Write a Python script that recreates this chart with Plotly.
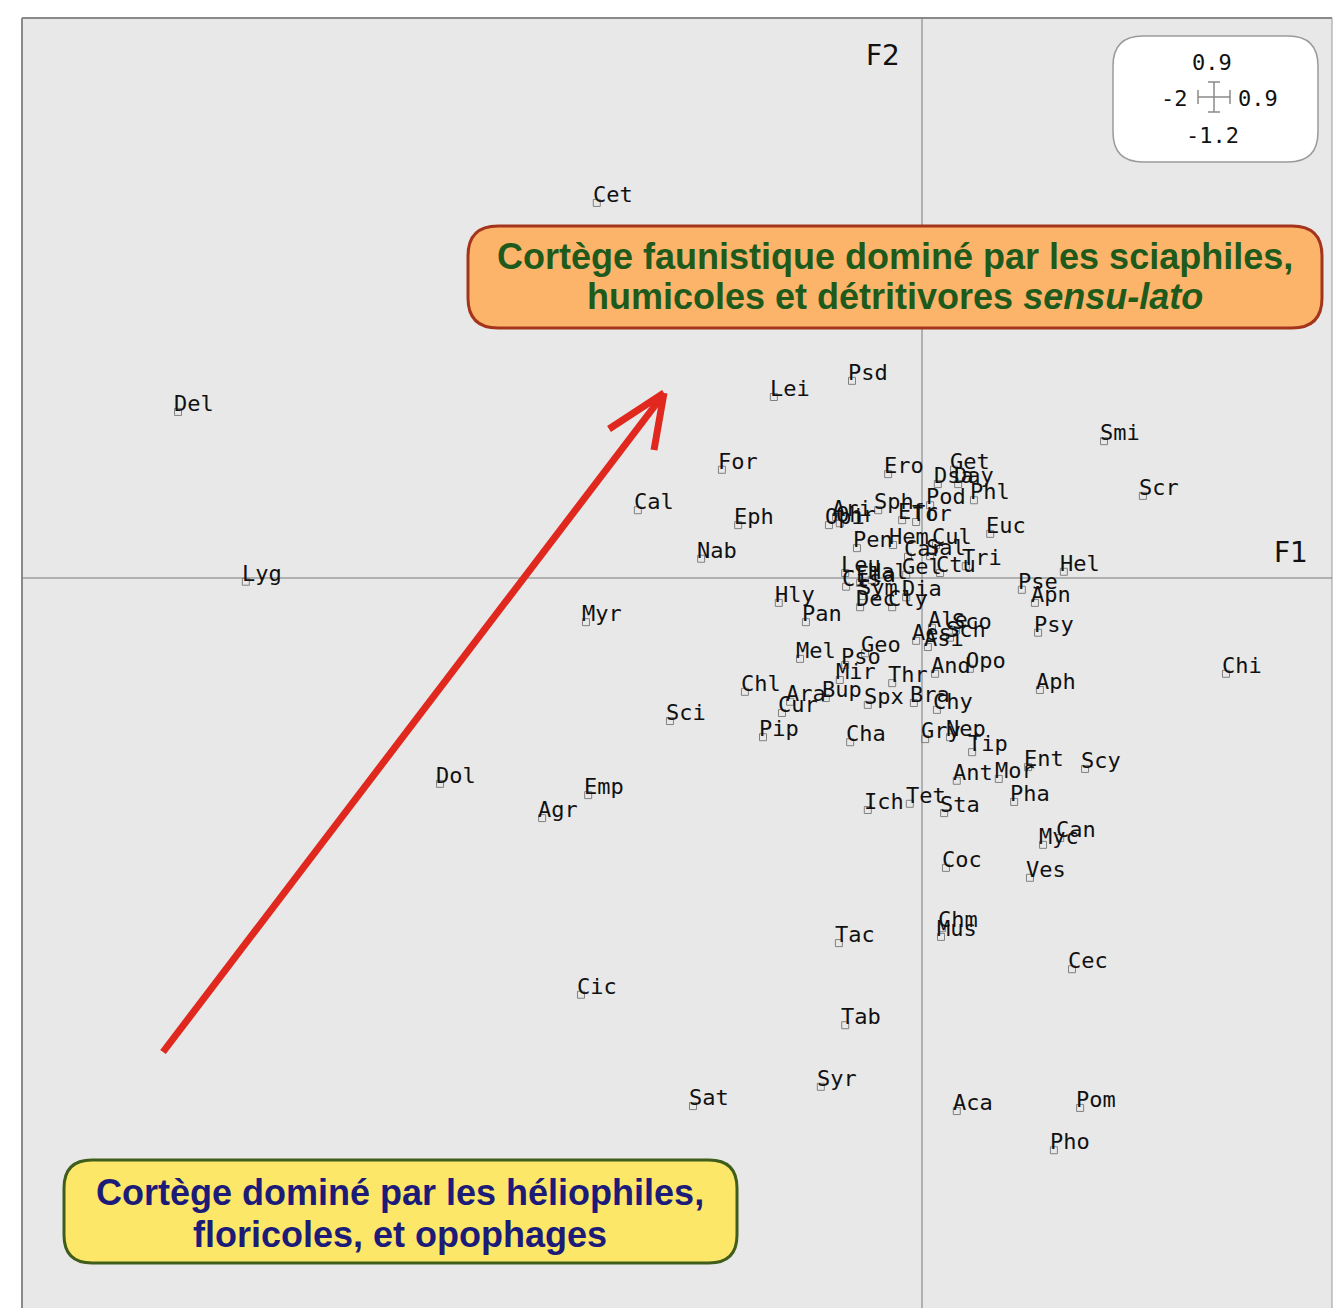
import plotly.graph_objects as go

# ---- data: factorial coordinates (F1, F2) of taxa ----
labels = ["Cet", "Del", "Lyg", "Lei", "Psd", "Smi", "Scr", "For", "Cal", "Eph",
          "Nab", "Ero", "Get", "Dsa", "Day", "Phl", "Pod", "Sph", "Ari", "Opi",
          "Ohr", "Efr", "Tor", "Euc", "Pen", "Hem", "Cul", "Car", "Sal", "Tri",
          "Ctu", "Hel", "Leu", "Cis", "Ela", "Hal", "Gel", "Sym", "Dia", "Dec",
          "Cly", "Pse", "Apn", "Hly", "Pan", "Myr", "Psy", "Ale", "Aes", "Sco",
          "Sch", "Asi", "Chi", "Mel", "Geo", "Pso", "And", "Opo", "Mir", "Thr",
          "Aph", "Chl", "Ara", "Bup", "Cur", "Spx", "Bra", "Chy", "Sci", "Pip",
          "Cha", "Gry", "Nep", "Tip", "Ent", "Scy", "Ant", "Mor", "Dol", "Emp",
          "Agr", "Ich", "Tet", "Sta", "Pha", "Myc", "Can", "Coc", "Ves", "Chm",
          "Mus", "Tac", "Cec", "Cic", "Tab", "Syr", "Sat", "Aca", "Pom", "Pho"]
f1 = [-0.720, -1.647, -1.497, -0.328, -0.155, 0.403, 0.489, -0.443, -0.629, -0.407,
      -0.489, -0.075, 0.071, 0.035, 0.080, 0.115, 0.018, -0.097, -0.190, -0.206,
      -0.182, -0.044, -0.013, 0.151, -0.144, -0.064, 0.031, -0.031, 0.018, 0.097,
      0.040, 0.314, -0.170, -0.168, -0.137, -0.111, -0.035, -0.133, -0.035, -0.137,
      -0.066, 0.221, 0.250, -0.317, -0.257, -0.744, 0.257, 0.022, -0.013, 0.075,
      0.062, 0.013, 0.673, -0.270, -0.126, -0.170, 0.029, 0.106, -0.182, -0.066,
      0.261, -0.392, -0.292, -0.213, -0.310, -0.120, -0.018, 0.033, -0.558, -0.352,
      -0.159, 0.007, 0.062, 0.111, 0.235, 0.361, 0.077, 0.170, -1.067, -0.739,
      -0.841, -0.120, -0.027, 0.049, 0.204, 0.268, 0.306, 0.053, 0.239, 0.044,
      0.042, -0.184, 0.332, -0.755, -0.170, -0.224, -0.507, 0.077, 0.350, 0.292]
f2 = [0.603, 0.267, -0.006, 0.291, 0.317, 0.220, 0.132, 0.174, 0.109, 0.085,
      0.031, 0.167, 0.174, 0.151, 0.151, 0.125, 0.117, 0.109, 0.098, 0.085,
      0.088, 0.093, 0.090, 0.071, 0.048, 0.053, 0.053, 0.034, 0.035, 0.019,
      0.008, 0.010, 0.008, -0.014, -0.008, -0.003, 0.005, -0.029, -0.031, -0.047,
      -0.047, -0.019, -0.040, -0.040, -0.071, -0.071, -0.088, -0.080, -0.101, -0.084,
      -0.096, -0.111, -0.154, -0.130, -0.121, -0.140, -0.154, -0.146, -0.164, -0.169,
      -0.180, -0.183, -0.199, -0.193, -0.217, -0.204, -0.201, -0.212, -0.230, -0.256,
      -0.264, -0.259, -0.256, -0.280, -0.304, -0.307, -0.326, -0.323, -0.331, -0.349,
      -0.386, -0.373, -0.363, -0.378, -0.360, -0.429, -0.418, -0.466, -0.482, -0.563,
      -0.577, -0.587, -0.629, -0.670, -0.719, -0.818, -0.849, -0.857, -0.852, -0.920]

scale_labels = ["0.9", "-2", "0.9", "-1.2"]
axis_names = ["F1", "F2"]
box_top_lines = ["Cortège faunistique dominé par les sciaphiles,",
                 "humicoles et détritivores <i>sensu-lato</i>"]
box_bottom_lines = ["Cortège dominé par les héliophiles,",
                    "floricoles, et opophages"]

# ---- layout helpers (screen pixel -> paper); page body has an 8px margin ----
OFF = 8
W, H = 1328, 1300
PL, PT, PR, PB = 22, 18, 1332, 1308          # plot area in screen pixels
ML, MT = PL - OFF, PT - OFF
MR = W - (PR - OFF)
MB = H - (PB - OFF)
PW, PH = PR - PL, PB - PT
X0PIX, Y0PIX, SX, SY = 922, 578, 451.7, 622.0  # origin and scale in screen pixels


def px(x):
    return (x - PL) / PW


def py(y):
    return (PB - y) / PH


def rounded_rect(x0, y0, x1, y1, r):
    rx, ry = r / PW, r / PH
    X0, X1 = px(x0), px(x1)
    Y0, Y1 = py(y0), py(y1)  # Y0 top, Y1 bottom
    return (f"M{X0+rx},{Y0} L{X1-rx},{Y0} Q{X1},{Y0} {X1},{Y0-ry} "
            f"L{X1},{Y1+ry} Q{X1},{Y1} {X1-rx},{Y1} L{X0+rx},{Y1} "
            f"Q{X0},{Y1} {X0},{Y1+ry} L{X0},{Y0-ry} Q{X0},{Y0} {X0+rx},{Y0} Z")


fig = go.Figure()
fig.add_trace(go.Scatter(
    x=f1, y=f2, mode="markers",
    marker=dict(symbol="square-open", size=7, color="#808080", line=dict(width=1)),
    hoverinfo="text", text=labels, showlegend=False))

annotations = []
for lab, xv, yv in zip(labels, f1, f2):
    annotations.append(dict(
        x=xv, y=yv, xref="x", yref="y", text=lab, showarrow=False,
        xanchor="left", yanchor="bottom", xshift=-6, yshift=-6,
        font=dict(family="DejaVu Sans Mono", size=22, color="#111111")))

# axis names
annotations.append(dict(x=px(1310), y=py(552), xref="paper", yref="paper",
                        text=axis_names[0], showarrow=False, xanchor="right",
                        yanchor="middle",
                        font=dict(family="DejaVu Sans", size=28, color="#111111")))
annotations.append(dict(x=px(902), y=py(56), xref="paper", yref="paper",
                        text=axis_names[1], showarrow=False, xanchor="right",
                        yanchor="middle",
                        font=dict(family="DejaVu Sans", size=28, color="#111111")))

# scale box texts
mono = dict(family="DejaVu Sans Mono", size=22, color="#111111")
annotations += [
    dict(x=px(1212), y=py(63), xref="paper", yref="paper", text=scale_labels[0],
         showarrow=False, xanchor="center", yanchor="middle", font=mono),
    dict(x=px(1190), y=py(99), xref="paper", yref="paper", text=scale_labels[1],
         showarrow=False, xanchor="right", yanchor="middle", font=mono),
    dict(x=px(1236), y=py(99), xref="paper", yref="paper", text=scale_labels[2],
         showarrow=False, xanchor="left", yanchor="middle", font=mono),
    dict(x=px(1212), y=py(136), xref="paper", yref="paper", text=scale_labels[3],
         showarrow=False, xanchor="center", yanchor="middle", font=mono),
]

# text boxes (one annotation per line for tight line spacing)
for txt, ycen in zip(box_top_lines, [256, 297]):
    annotations.append(dict(x=px(895), y=py(ycen), xref="paper", yref="paper",
                            text=f"<b>{txt}</b>", showarrow=False,
                            xanchor="center", yanchor="middle",
                            font=dict(family="Liberation Sans", size=36, color="#1e5a1c")))
for txt, ycen in zip(box_bottom_lines, [1192, 1234]):
    annotations.append(dict(x=px(400), y=py(ycen), xref="paper", yref="paper",
                            text=f"<b>{txt}</b>", showarrow=False,
                            xanchor="center", yanchor="middle",
                            font=dict(family="Liberation Sans", size=36, color="#1c1c78")))

shapes = [
    # border (left, top, right)
    dict(type="line", xref="paper", yref="paper", x0=0, x1=0, y0=0, y1=1,
         line=dict(color="#8a8a8a", width=2)),
    dict(type="line", xref="paper", yref="paper", x0=0, x1=1, y0=1, y1=1,
         line=dict(color="#8a8a8a", width=2)),
    dict(type="line", xref="paper", yref="paper", x0=1, x1=1, y0=0, y1=1,
         line=dict(color="#9a9a9a", width=1)),
    # axes through origin
    dict(type="line", xref="x", yref="paper", x0=0, x1=0, y0=0, y1=1,
         line=dict(color="#7a7a7a", width=1)),
    dict(type="line", xref="paper", yref="y", x0=0, x1=1, y0=0, y1=0,
         line=dict(color="#7a7a7a", width=1)),
    # boxes
    dict(type="path", xref="paper", yref="paper",
         path=rounded_rect(468, 226, 1322, 328, 30),
         fillcolor="#fbb46a", line=dict(color="#a5341c", width=3), layer="above"),
    dict(type="path", xref="paper", yref="paper",
         path=rounded_rect(64, 1160, 737, 1263, 28),
         fillcolor="#fde768", line=dict(color="#3f5e1c", width=3), layer="above"),
    dict(type="path", xref="paper", yref="paper",
         path=rounded_rect(1113, 36, 1318, 162, 30),
         fillcolor="#ffffff", line=dict(color="#9a9a9a", width=1.5), layer="above"),
]

# red arrow (shaft + open chevron head), screen pixel positions
ARROW_TIP = (664, 393)
arrow_segments = [((163, 1052), (660, 399)),
                  (ARROW_TIP, (609, 429)),
                  (ARROW_TIP, (654, 450))]
for (a, b) in arrow_segments:
    shapes.append(dict(type="line", xref="paper", yref="paper",
                       x0=px(a[0]), y0=py(a[1]), x1=px(b[0]), y1=py(b[1]),
                       line=dict(color="#e0281e", width=7), layer="above"))

# scale cross
cross = [((1198, 97), (1230, 97)), ((1198, 90), (1198, 104)), ((1230, 90), (1230, 104)),
         ((1214, 82), (1214, 112)), ((1208, 82), (1220, 82)), ((1208, 112), (1220, 112))]
for (a, b) in cross:
    shapes.append(dict(type="line", xref="paper", yref="paper",
                       x0=px(a[0]), y0=py(a[1]), x1=px(b[0]), y1=py(b[1]),
                       line=dict(color="#8a8a8a", width=1.5), layer="above"))

x_lo = (PL - X0PIX) / SX
x_hi = (PR - X0PIX) / SX
y_hi = (Y0PIX - PT) / SY
y_lo = (Y0PIX - PB) / SY

fig.update_layout(
    width=W, height=H,
    margin=dict(l=ML, r=MR, t=MT, b=MB),
    paper_bgcolor="#ffffff", plot_bgcolor="#e8e8e8",
    xaxis=dict(range=[x_lo, x_hi], showgrid=False, zeroline=False,
               showticklabels=False, ticks="", showline=False),
    yaxis=dict(range=[y_lo, y_hi], showgrid=False, zeroline=False,
               showticklabels=False, ticks="", showline=False),
    annotations=annotations, shapes=shapes, showlegend=False,
)

fig.write_html("out.html")
